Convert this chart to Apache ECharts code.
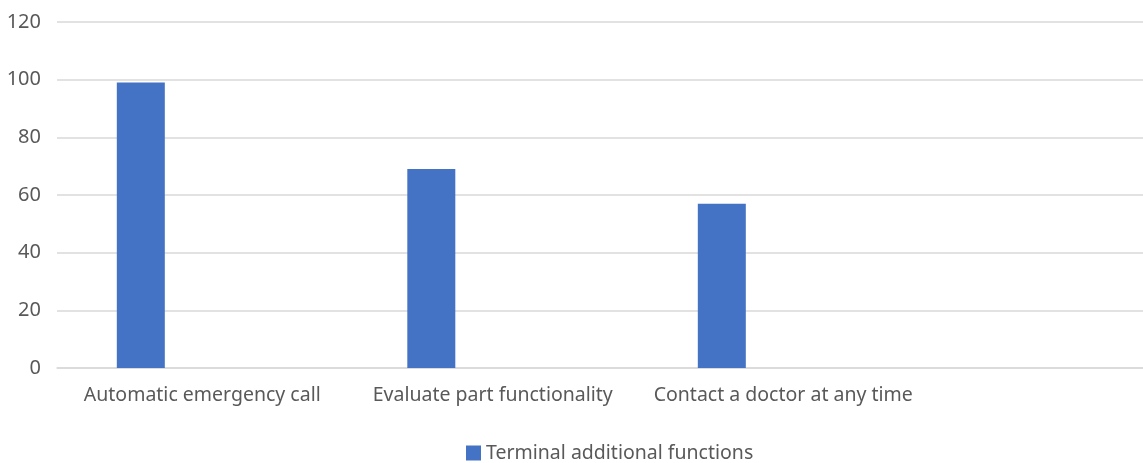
<!DOCTYPE html>
<html>
<head>
<meta charset="utf-8">
<script src="https://cdn.jsdelivr.net/npm/echarts@6/dist/echarts.min.js"></script>
<style>
  html, body { margin: 0; padding: 0; background: #ffffff; overflow: hidden; }
  #wrap { width: 1143px; height: 463px; overflow: hidden; }
  /* plot runs past the right edge, so the last (empty) slot is cut off */
  #chart { width: 1219px; height: 463px; }
</style>
</head>
<body>
<div id="wrap"><div id="chart"></div></div>
<script>
// Categories (the fourth slot is left empty, as in the source workbook)
const categories = ['Automatic emergency call', 'Evaluate part functionality', 'Contact a doctor at any time', ''];
const seriesName = 'Terminal additional functions';
const seriesValues = [99, 69, 57, null];
// Empty companion series keeps the bar on the left side of each category slot
const spacerValues = [null, null, null, null];
const yTicks = { min: 0, max: 120, interval: 20 };

const textColor = '#595959';
const fontFamily = '"Noto Sans", "Open Sans", sans-serif';

const chart = echarts.init(document.getElementById('chart'), null, { renderer: 'canvas' });
chart.setOption({
  animation: false,
  backgroundColor: '#ffffff',
  grid: { left: 57, right: 0, top: 22, bottom: 95, containLabel: false },
  legend: {
    data: [seriesName],
    left: 466,
    top: 443,
    padding: 0,
    itemWidth: 15,
    itemHeight: 15,
    icon: 'rect',
    textStyle: { color: textColor, fontSize: 19.5, fontFamily: fontFamily }
  },
  xAxis: {
    type: 'category',
    data: categories,
    axisLine: { lineStyle: { color: '#D9D9D9', width: 1.5 } },
    axisTick: { show: false },
    axisLabel: { color: textColor, fontSize: 19.5, fontFamily: fontFamily, margin: 17, interval: 0 }
  },
  yAxis: {
    type: 'value',
    min: yTicks.min,
    max: yTicks.max,
    interval: yTicks.interval,
    axisLine: { show: false },
    axisTick: { show: false },
    splitLine: { lineStyle: { color: '#D9D9D9', width: 1.5 } },
    axisLabel: { color: textColor, fontSize: 20, fontFamily: fontFamily, margin: 16 }
  },
  series: [
    {
      name: seriesName,
      type: 'bar',
      data: seriesValues,
      barWidth: 48,
      barGap: '156%',
      itemStyle: { color: '#4472C4' }
    },
    {
      name: 'spacer',
      type: 'bar',
      data: spacerValues,
      barWidth: 48,
      itemStyle: { color: 'rgba(0,0,0,0)' }
    }
  ]
});
</script>
</body>
</html>
